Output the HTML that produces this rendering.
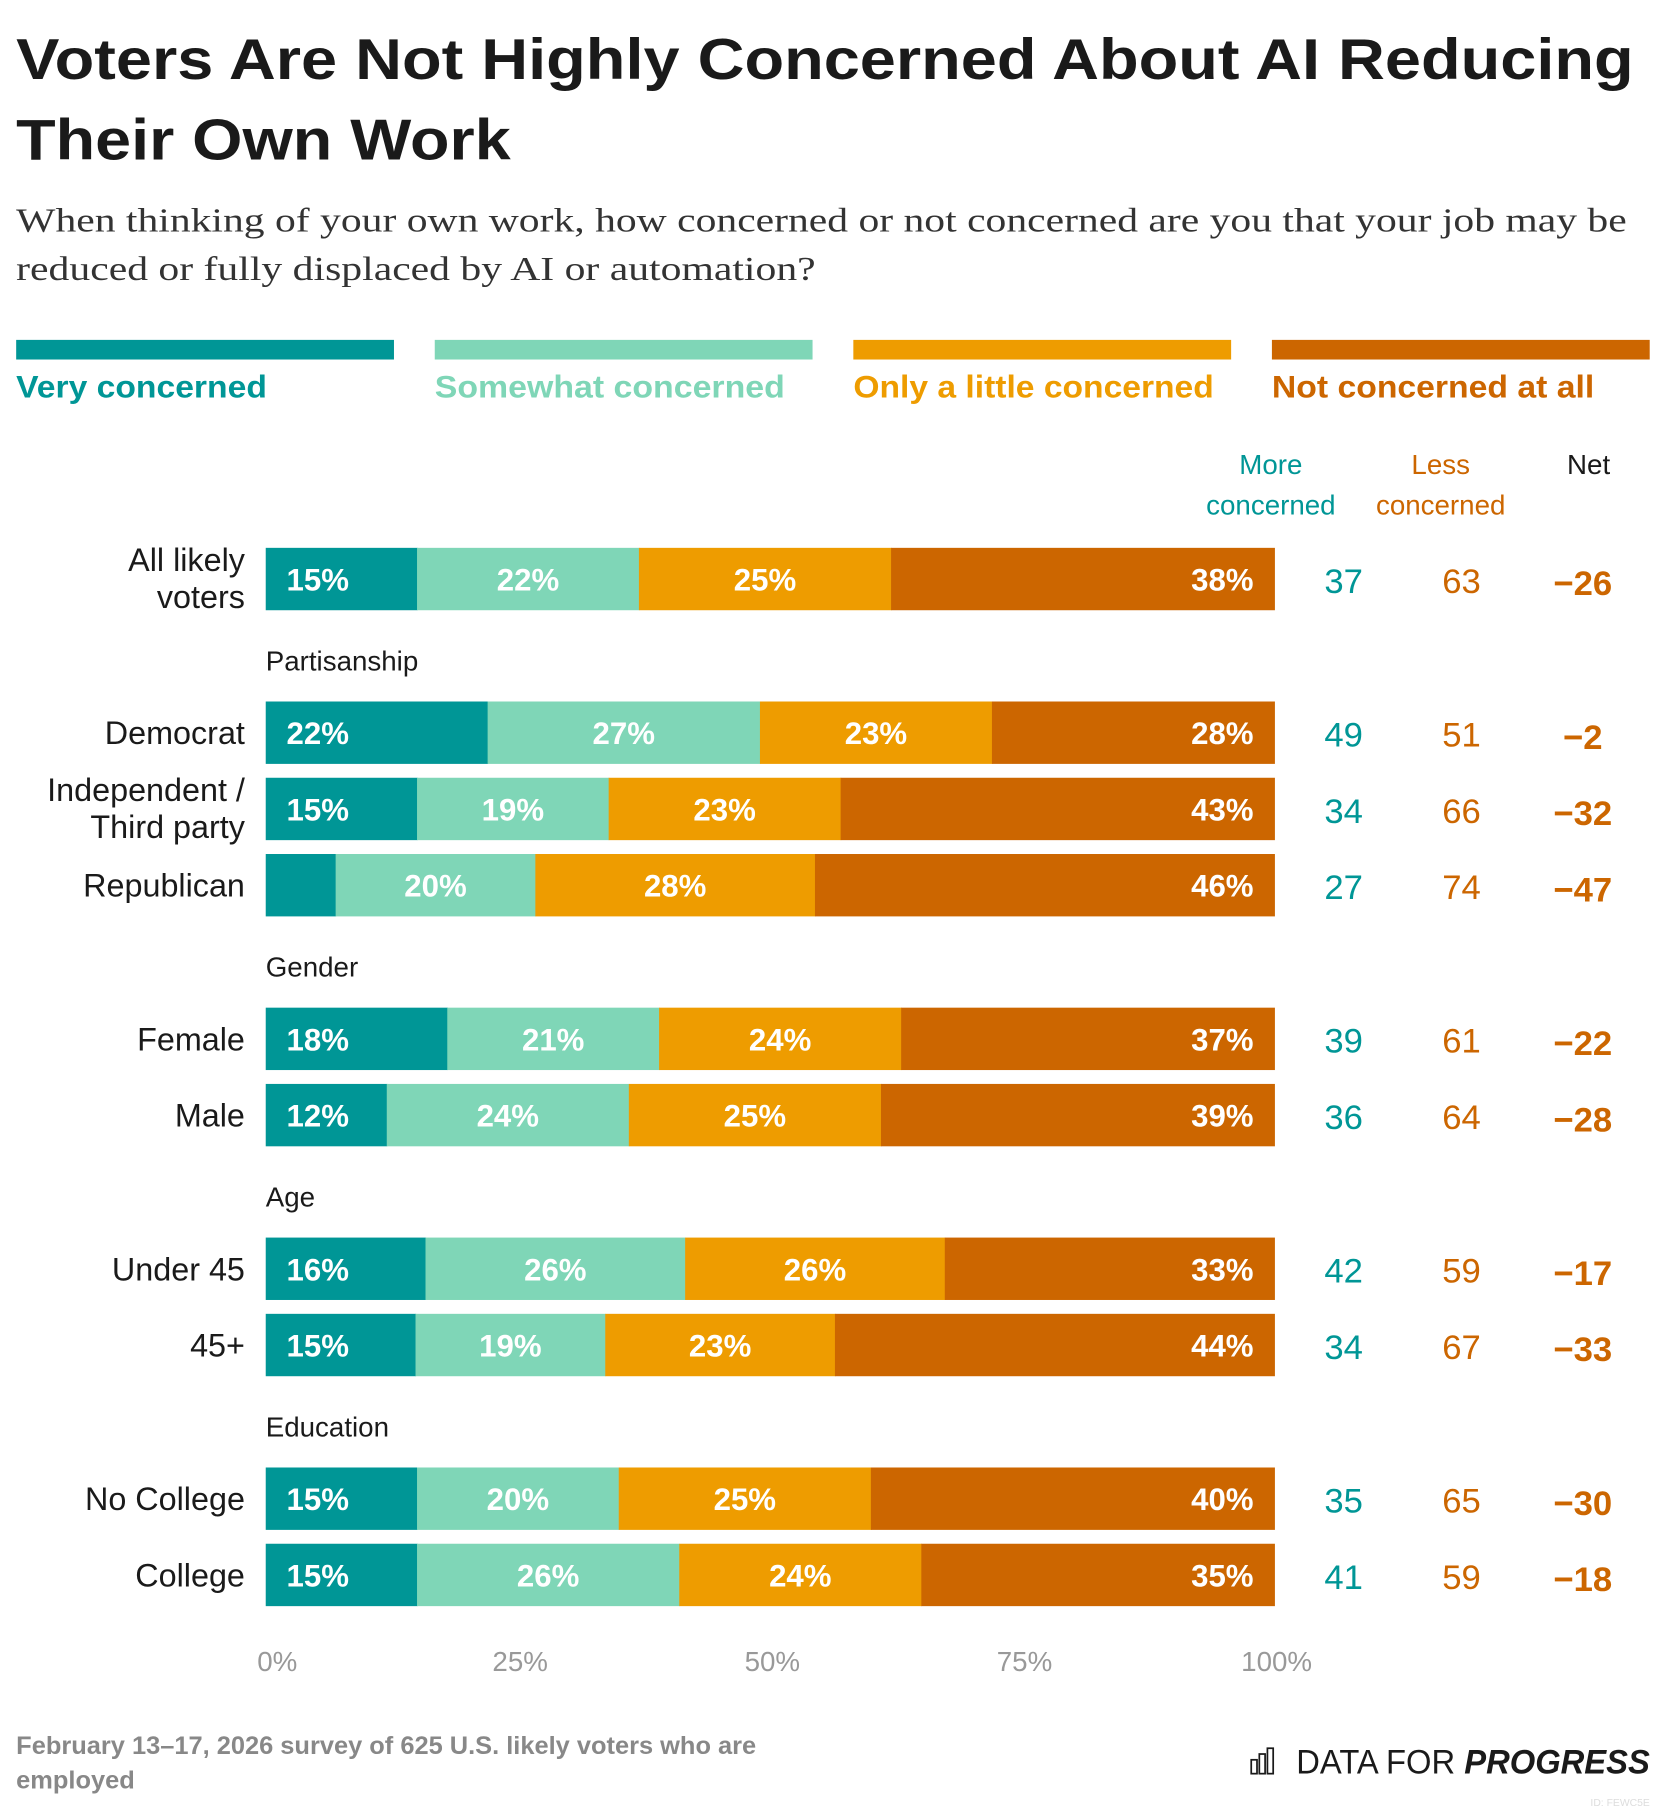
<!DOCTYPE html>
<html><head><meta charset="utf-8">
<style>
html,body{margin:0;padding:0;background:#fff;}
svg{display:block;}
text{font-family:"Liberation Sans",sans-serif;}
</style></head>
<body>
<svg id="chart" width="1666" height="1812" viewBox="0 0 1442 1568" xmlns="http://www.w3.org/2000/svg">
<text x="14" y="68" font-size="50" font-weight="bold" fill="#1a1a1a" textLength="1400" lengthAdjust="spacingAndGlyphs">Voters Are Not Highly Concerned About AI Reducing</text>
<text x="14" y="138" font-size="50" font-weight="bold" fill="#1a1a1a" textLength="428" lengthAdjust="spacingAndGlyphs">Their Own Work</text>
<text x="14" y="200" font-size="29" fill="#333" style="font-family:'Liberation Serif',serif" textLength="1394" lengthAdjust="spacingAndGlyphs">When thinking of your own work, how concerned or not concerned are you that your job may be</text>
<text x="14" y="242" font-size="29" fill="#333" style="font-family:'Liberation Serif',serif" textLength="692" lengthAdjust="spacingAndGlyphs">reduced or fully displaced by AI or automation?</text>
<g id="legend"></g>
<g font-size="24" text-anchor="middle">
<text x="1100" y="410" fill="#009696">More</text>
<text x="1100" y="445" fill="#009696">concerned</text>
<text x="1247" y="410" fill="#cc6600">Less</text>
<text x="1247" y="445" fill="#cc6600">concerned</text>
<text x="1375" y="410" fill="#1a1a1a">Net</text>
</g>
<g id="bars"></g>
<g id="axis"></g>
<text x="14" y="1518" font-size="22" font-weight="bold" fill="#888">February 13–17, 2026 survey of 625 U.S. likely voters who are</text>
<text x="14" y="1548" font-size="22" font-weight="bold" fill="#888">employed</text>
<g>
<rect x="1083" y="1523" width="5" height="12" fill="none" stroke="#1a1a1a" stroke-width="1.5"/>
<rect x="1090" y="1518" width="5" height="17" fill="none" stroke="#1a1a1a" stroke-width="1.5"/>
<rect x="1097" y="1513" width="5" height="22" fill="none" stroke="#1a1a1a" stroke-width="1.5"/>
<text x="1428" y="1535" font-size="30" text-anchor="end" fill="#1a1a1a" textLength="306" lengthAdjust="spacingAndGlyphs">DATA FOR <tspan font-weight="bold" font-style="italic">PROGRESS</tspan></text>
</g>
<text x="1428" y="1563" font-size="9" text-anchor="end" fill="#ddd">ID: FEWC5E</text>
</svg>
<script>
const categories = ["All likely|voters","Democrat","Independent /|Third party","Republican","Female","Male","Under 45","45+","No College","College"];
const groupLabels = [null,"Partisanship",null,null,"Gender",null,"Age",null,"Education",null];
const veryConcerned = [15,22,15,7,18,12,16,15,15,15];
const somewhatConcerned = [22,27,19,20,21,24,26,19,20,26];
const littleConcerned = [25,23,23,28,24,25,26,23,25,24];
const notConcerned = [38,28,43,46,37,39,33,44,40,35];
const moreTotals = [37,49,34,27,39,36,42,34,35,41];
const lessTotals = [63,51,66,74,61,64,59,67,65,59];
const netValues = [-26,-2,-32,-47,-22,-28,-17,-33,-30,-18];
const seriesNames = ["Very concerned","Somewhat concerned","Only a little concerned","Not concerned at all"];
const tickValues = [0,25,50,75,100];
const tickLabels = ["0%","25%","50%","75%","100%"];

const NS = "http://www.w3.org/2000/svg";
const colors = ["#009696","#7fd6b7","#ee9c00","#cc6600"];
const legendWidths = [217,303,312,279];
const X0 = 230, X1 = 1103, BH = 54;
const rowTops = [474,607,673,739,872,938,1071,1137,1270,1336];
const xScale = v => X0 + (X1 - X0) * v / 100;
function el(tag, attrs, parent){const e=document.createElementNS(NS,tag);for(const k in attrs)e.setAttribute(k,attrs[k]);parent.appendChild(e);return e;}

const legend = document.getElementById('legend');
seriesNames.forEach((n,i)=>{
  const lx = 14 + i*362.3;
  const r = el('rect',{x:lx,y:294,width:327,height:17,fill:colors[i]},legend);
  
  
  const t = el('text',{x:lx,y:344,'font-size':27,'font-weight':'bold',fill:colors[i],textLength:legendWidths[i],lengthAdjust:'spacingAndGlyphs'},legend);
  
  
  t.textContent = n;
});

const bars = document.getElementById('bars');
const series = [veryConcerned,somewhatConcerned,littleConcerned,notConcerned];
categories.forEach((cat,i)=>{
  const top = rowTops[i], cy = top + BH/2;
  if (groupLabels[i]) {
    const g = el('text',{x:230,y:top-27,'font-size':24,fill:'#1a1a1a'},bars);
    
    
    g.textContent = groupLabels[i];
  }
  const lines = cat.split('|');
  lines.forEach((ln,j)=>{
    const t = el('text',{x:212,y:lines.length===1?cy+10:cy-7+j*32,'font-size':28,'text-anchor':'end',fill:'#1a1a1a'},bars);
    
    
    t.textContent = ln;
  });
  const vals = series.map(s=>s[i]);
  const total = vals.reduce((a,b)=>a+b,0);
  let cum = 0;
  vals.forEach((v,k)=>{
    const xa = xScale(cum/total*100), xb = xScale((cum+v)/total*100);
    const r = el('rect',{x:xa,y:top,width:xb-xa+0.5,height:BH,fill:colors[k]},bars);
    
    
    if (v >= 9) {
      let tx, anchor;
      if (k===0){tx=xa+18;anchor='start';}
      else if (k===3){tx=xb-18;anchor='end';}
      else {tx=(xa+xb)/2;anchor='middle';}
      const t = el('text',{x:tx,y:cy+10,'font-size':27,'font-weight':'bold','text-anchor':anchor,fill:'#fff'},bars);
      
      
      t.textContent = v + '%';
    }
    cum += v;
  });
  const m = el('text',{x:1163,y:cy+12,'font-size':30,'text-anchor':'middle',fill:'#009696'},bars);
  
  
  m.textContent = moreTotals[i];
  const l = el('text',{x:1265,y:cy+12,'font-size':30,'text-anchor':'middle',fill:'#cc6600'},bars);
  
  
  l.textContent = lessTotals[i];
  const n = el('text',{x:1370,y:cy+14,'font-size':30,'font-weight':'bold','text-anchor':'middle',fill:'#cc6600'},bars);
  
  
  n.textContent = (netValues[i]<0?'\u2212':'') + Math.abs(netValues[i]);
});

const axis = document.getElementById('axis');
tickValues.forEach((v,i)=>{
  const t = el('text',{x:xScale(v)+(i===0?10:2),y:1446,'font-size':24,'text-anchor':'middle',fill:'#999'},axis);
  
  
  t.textContent = tickLabels[i];
});
</script>
</body></html>
